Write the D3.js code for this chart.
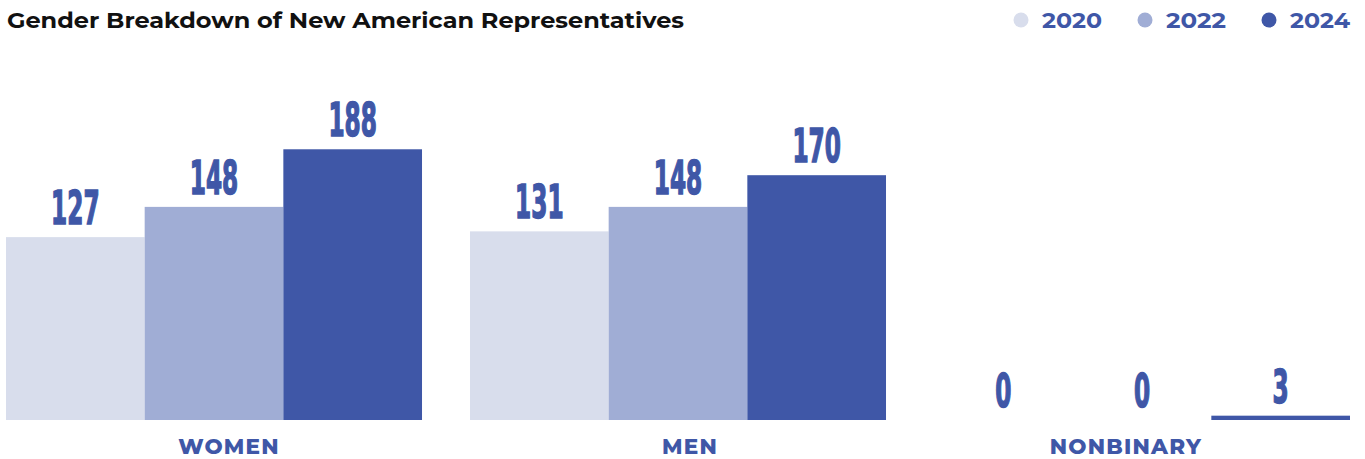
<!DOCTYPE html>
<html>
<head>
<meta charset="utf-8">
<script src="https://cdn.jsdelivr.net/npm/d3@7"></script>
<style>
  body { margin: 0; background: #fff; }
  svg { display: block; }
</style>
</head>
<body>
<svg id="chart"></svg>
<script>
var categories = ["WOMEN", "MEN", "NONBINARY"],
    years = ["2020", "2022", "2024"],
    values2020 = [127, 131, 0],
    values2022 = [148, 148, 0],
    values2024 = [188, 170, 3],
    colors = ["#d8ddec", "#a0add5", "#3f57a7"],
    labelShift = [15, 12, -16]

var series = [values2020, values2022, values2024]

var width = 1365,
    height = 459,
    baseline = 420,
    svg = d3.select("#chart")
      .attr("width", width)
      .attr("height", height)

var x0 = d3.scaleBand()
      .domain(categories)
      .range([6, 1350])
      .paddingInner(0.1034)
      .paddingOuter(0),
    x1 = d3.scaleBand()
      .domain(years)
      .range([0, x0.bandwidth()]),
    y = d3.scaleLinear()
      .domain([0, 200])
      .range([baseline, baseline - 288])

var rows = []
categories.forEach((c, i) => {
  years.forEach((yr, j) => {
    rows.push({cat: c, year: yr, value: series[j][i], color: colors[j]})
  })
})

svg.append("text")
  .attr("x", 7)
  .attr("y", 28)
  .attr("font-family", "Montserrat, 'Open Sans', sans-serif")
  .attr("font-weight", 700)
  .attr("font-size", 21)
  .attr("fill", "#111")
  .attr("textLength", 677)
  .attr("lengthAdjust", "spacingAndGlyphs")
  .text("Gender Breakdown of New American Representatives")

// legend
var legendX = [1021, 1145, 1269]
var legend = svg.append("g")
  .selectAll("g")
    .data(years)
    .enter().append("g")
      .attr("transform", (d, i) => `translate(${legendX[i]},20)`)
legend.append("circle")
  .attr("r", 7.5)
  .attr("fill", (d, i) => colors[i])
legend.append("text")
  .attr("x", 21)
  .attr("y", 8)
  .attr("font-family", "Montserrat, 'Open Sans', sans-serif")
  .attr("font-weight", 700)
  .attr("font-size", 21)
  .attr("fill", "#3f57a7")
  .attr("textLength", 60)
  .attr("lengthAdjust", "spacingAndGlyphs")
  .text((d) => d)

var groups = svg.append("g")
  .selectAll("g")
    .data(rows)
    .enter().append("g")
      .attr("transform", (d) => `translate(${x0(d.cat) + x1(d.year)},0)`)

groups.append("rect")
  .attr("x", 0)
  .attr("width", x1.bandwidth())
  .attr("y", (d) => y(d.value))
  .attr("height", (d) => baseline - y(d.value))
  .attr("fill", (d) => d.color)

groups.append("text")
  .attr("transform", (d) => `translate(${x1.bandwidth() / 2},${y(d.value) - 13}) scale(0.68,1.22)`)
  .attr("text-anchor", "middle")
  .attr("font-family", "'DejaVu Sans Condensed', 'Liberation Sans Narrow', sans-serif")
  .attr("font-weight", 700)
  .attr("font-size", 38)
  .attr("fill", "#3f57a7")
  .attr("stroke", "#3f57a7")
  .attr("stroke-width", 1.2)
  .text((d) => d.value)

svg.append("g")
  .selectAll("text")
    .data(categories)
    .enter().append("text")
      .attr("x", (d, i) => x0(d) + x0.bandwidth() / 2 + labelShift[i])
      .attr("y", 454)
      .attr("text-anchor", "middle")
      .attr("font-family", "Montserrat, 'Open Sans', sans-serif")
      .attr("font-weight", 800)
      .attr("font-size", 21.5)
      .attr("letter-spacing", 1.2)
      .attr("fill", "#3f57a7")
      .text((d) => d)
</script>
</body>
</html>
